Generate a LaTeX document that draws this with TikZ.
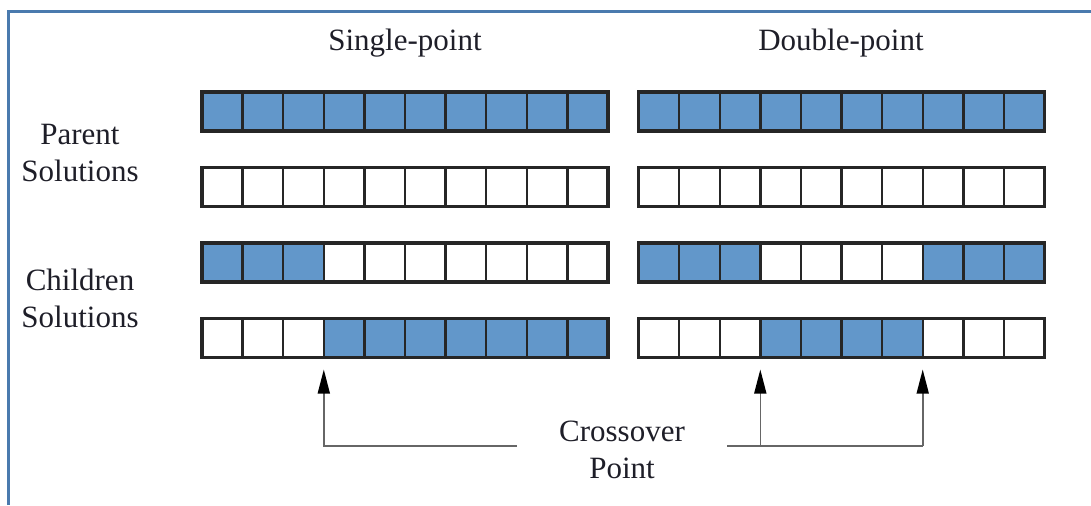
\documentclass[tikz,border=0pt]{standalone}
\usepackage{fontspec}
\setmainfont{Liberation Serif}
\usepackage{tikz}
\usetikzlibrary{positioning, arrows.meta, calc}
\definecolor{geneblue}{RGB}{98,151,202}
\definecolor{framecol}{RGB}{74,122,174}
\definecolor{inkcol}{RGB}{30,30,40}
\colorlet{B}{geneblue}
\colorlet{W}{white}
\newcommand{\GeneRow}[4]{% name, left edge, centre y, fills
  \foreach \f [count=\i] in {#4} {
    \node[gene, fill=\f] (#1-\i) at ({#2+40.6*(\i-0.5)}, #3) {};
  }
  \draw[bar] (#1-1.north west) rectangle (#1-10.south east);
}
\tikzset{
    gene/.style={draw=black!85, line width=1.2pt, minimum width=20.3pt, minimum height=19.5pt, inner sep=0pt, outer sep=0pt},
    bar/.style={draw=black!85, line width=1.6pt},
    lbl/.style={font=\fontsize{15.5}{18.5}\selectfont, text=inkcol, align=center},
    pointer/.style={draw=black!60, line width=0.8pt, -{Triangle[length=12pt, width=6pt, black]}},
    wire/.style={draw=black!60, line width=0.8pt},
}
\begin{document}
\begin{tikzpicture}[x=0.5pt, y=-0.5pt]
    \useasboundingbox (0,0) rectangle (1091,505);
    \draw[framecol, line width=1.5pt] (8,505) -- (8,11) -- (1091,11);

    \node[lbl] (single) at (405,43) {Single-point};
    \node[lbl] (double) at (841,43) {Double-point};
    \node[lbl] (parents) at (80,153) {Parent\\Solutions};
    \node[lbl] (children) at (80,298) {Children\\Solutions};

    % single-point
    \GeneRow{L1}{202}{111.5}{B,B,B,B,B,B,B,B,B,B}
    \GeneRow{L2}{202}{187}{W,W,W,W,W,W,W,W,W,W}
    \GeneRow{L3}{202}{262.5}{B,B,B,W,W,W,W,W,W,W}
    \GeneRow{L4}{202}{338}{W,W,W,B,B,B,B,B,B,B}

    % double-point
    \GeneRow{R1}{638.5}{111.5}{B,B,B,B,B,B,B,B,B,B}
    \GeneRow{R2}{638.5}{187}{W,W,W,W,W,W,W,W,W,W}
    \GeneRow{R3}{638.5}{262.5}{B,B,B,W,W,W,W,B,B,B}
    \GeneRow{R4}{638.5}{338}{W,W,W,B,B,B,B,W,W,W}

    \node[lbl] (cross) at (622,450) {Crossover\\Point};

    \coordinate (tailL) at (517,446);
    \coordinate (tailR) at (727,446);
    \coordinate (cutL) at ([yshift=-6pt]L4-3.south east);
    \coordinate (cutR1) at ([yshift=-6pt]R4-3.south east);
    \coordinate (cutR2) at ([yshift=-6pt]R4-7.south east);

    \draw[pointer] (tailL) -- (tailL -| cutL) -- (cutL);
    \draw[wire] (tailR) -- (tailR -| cutR2);
    \draw[pointer] (tailR -| cutR1) -- (cutR1);
    \draw[pointer] (tailR -| cutR2) -- (cutR2);
\end{tikzpicture}
\end{document}
